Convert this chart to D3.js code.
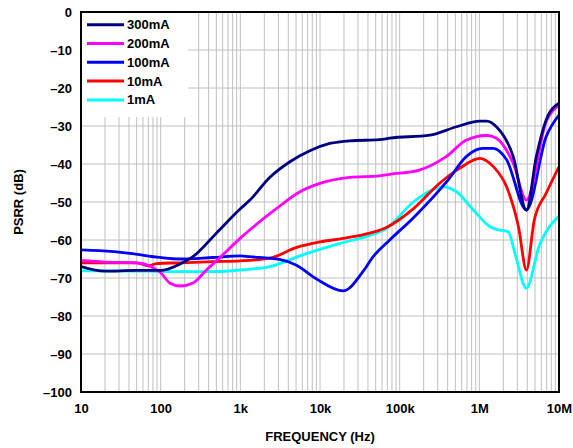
<!DOCTYPE html>
<html><head><meta charset="utf-8">
<script src="https://cdn.jsdelivr.net/npm/d3@7"></script>
<style>body{margin:0;background:#fff}svg{display:block}</style>
</head><body>
<script>
const xTicks = [10, 100, 1e3, 1e4, 1e5, 1e6, 1e7];
const xTickLabels = ["10", "100", "1k", "10k", "100k", "1M", "10M"];
const yTicks = [0, -10, -20, -30, -40, -50, -60, -70, -80, -90, -100];
const seriesNames = ["300mA", "200mA", "100mA", "10mA", "1mA"];
const seriesColors = ["#000080", "#ff00ff", "#0000ff", "#ff0000", "#00ffff"];

const freq300 = [10, 20, 50, 100, 175, 254, 500, 1000, 1320, 2350, 4190, 7470, 13300, 23700, 56000, 75300, 240e3, 517e3, 1.01e6, 1.24e6, 1.64e6, 2.66e6, 3.9e6, 5.2e6, 6.9e6, 1e7];
const psrr300 = [-67, -68.2, -68, -68, -66.3, -64.4, -58.2, -51.8, -49.5, -43.5, -39.4, -36.5, -34.6, -33.9, -33.6, -33.2, -32.4, -30.2, -28.7, -28.7, -30.2, -38, -52.1, -38, -28.4, -24];

const freq200 = [10, 20, 50, 100, 130, 175, 255, 375, 550, 1000, 2700, 5600, 10000, 23700, 56000, 75000, 176e3, 387e3, 690e3, 1.24e6, 1.64e6, 2.66e6, 3.9e6, 6.9e6, 1e7];
const psrr200 = [-65.4, -65.8, -66, -68.6, -71.3, -72.1, -71.3, -67.9, -64.7, -59.5, -52.1, -47.3, -45.1, -43.5, -43.1, -42.7, -41.6, -38, -33.7, -32.5, -33.2, -39.8, -49.5, -28.9, -24.5];

const freq100 = [10, 17, 41, 98, 175, 450, 1000, 1300, 3100, 5000, 9100, 19500, 34900, 46500, 75000, 148e3, 406e3, 690e3, 1.1e6, 1.5e6, 2.2e6, 3.9e6, 6.9e6, 1e7];
const psrr100 = [-62.6, -62.8, -63.5, -64.6, -65, -64.6, -64.2, -64.4, -65.1, -66.6, -70.3, -73.4, -68.2, -64.4, -60, -54.2, -44.2, -38, -35.9, -35.9, -38.9, -52.1, -32.8, -27.1];

const freq10 = [10, 31, 50, 70, 89, 175, 450, 1000, 2350, 5000, 10000, 19500, 42000, 68000, 148e3, 320e3, 570e3, 1.01e6, 1.5e6, 2.2e6, 3.1e6, 3.9e6, 4.9e6, 6.9e6, 1e7];
const psrr10 = [-66, -66, -66, -66.8, -66.2, -66, -65.7, -65.5, -64.8, -62, -60.5, -59.6, -58.2, -56.7, -51.8, -45, -41.1, -38.5, -40.7, -46, -56.5, -67.9, -54.7, -47.7, -40.7];

const freq1 = [10, 25, 67, 175, 450, 1000, 2350, 6100, 17800, 42000, 68000, 148e3, 260e3, 350e3, 517e3, 840e3, 1.36e6, 1.8e6, 2.3e6, 2.8e6, 3.9e6, 5.6e6, 1e7];
const psrr1 = [-68.1, -68.1, -68.2, -68.3, -68.3, -67.9, -67, -63.9, -60.9, -58.8, -57, -50, -46.8, -46, -47.3, -52.1, -56.5, -57.4, -57.8, -63.5, -72.7, -61.8, -53.7];

const W = 573, H = 448;
const L = 81, R = 559, T = 12, B = 392;
const svg = d3.select("body").append("svg").attr("width", W).attr("height", H);
const x = d3.scaleLog().domain([10, 1e7]).range([L, R]);
const y = d3.scaleLinear().domain([-100, 0]).range([B, T]);
const font = "'Liberation Sans', Arial, sans-serif";

// grid
const grid = svg.append("g").attr("stroke", "#c0c0c0").attr("stroke-width", 1);
const minor = [];
for (let d = 10; d < 1e7; d *= 10) for (let k = 2; k <= 9; k++) minor.push(d * k);
minor.concat(xTicks.slice(1, -1)).forEach(f => {
  grid.append("line").attr("x1", x(f)).attr("x2", x(f)).attr("y1", T).attr("y2", B);
});
yTicks.slice(1, -1).forEach(v => {
  grid.append("line").attr("x1", L).attr("x2", R).attr("y1", y(v)).attr("y2", y(v));
});

// legend background
svg.append("rect").attr("x", L).attr("y", T).attr("width", 107).attr("height", 105).attr("fill", "#fff");

// curves
const datasets = [[freq300, psrr300], [freq200, psrr200], [freq100, psrr100], [freq10, psrr10], [freq1, psrr1]];
const line = d3.line().x(d => x(d[0])).y(d => y(d[1])).curve(d3.curveMonotoneX);
svg.append("clipPath").attr("id", "c").append("rect").attr("x", L).attr("y", T).attr("width", R - L).attr("height", B - T);
[4, 3, 2, 1, 0].forEach(i => {
  const [fs, vs] = datasets[i];
  svg.append("path").datum(fs.map((f, j) => [f, vs[j]]))
    .attr("d", line).attr("fill", "none").attr("stroke", seriesColors[i])
    .attr("stroke-width", 2.8).attr("stroke-linejoin", "round").attr("clip-path", "url(#c)");
});

// frame
svg.append("rect").attr("x", L).attr("y", T).attr("width", R - L).attr("height", B - T)
  .attr("fill", "none").attr("stroke", "#000").attr("stroke-width", 2);

// axes labels
const xAxis = d3.axisBottom(x).tickValues(xTicks).tickFormat((d, i) => xTickLabels[i]).tickSize(0).tickPadding(12);
const gx = svg.append("g").attr("transform", `translate(0,${B})`).call(xAxis);
gx.select(".domain").remove();
gx.selectAll("text").attr("font-family", font).attr("font-weight", "bold").attr("font-size", 13).attr("fill", "#000");

const yAxis = d3.axisLeft(y).tickValues(yTicks).tickFormat(d => d === 0 ? "0" : "\u2013" + Math.abs(d)).tickSize(0).tickPadding(9);
const gy = svg.append("g").attr("transform", `translate(${L},0)`).call(yAxis);
gy.select(".domain").remove();
gy.selectAll("text").attr("font-family", font).attr("font-weight", "bold").attr("font-size", 13).attr("fill", "#000");

svg.append("text").attr("x", (L + R) / 2).attr("y", 441).attr("text-anchor", "middle")
  .attr("font-family", font).attr("font-weight", "bold").attr("font-size", 13).text("FREQUENCY (Hz)");
svg.append("text").attr("transform", `translate(23,${(T + B) / 2}) rotate(-90)`).attr("text-anchor", "middle")
  .attr("font-family", font).attr("font-weight", "bold").attr("font-size", 13).text("PSRR (dB)");

// legend
seriesNames.forEach((n, i) => {
  const ly = 24.7 + i * 18.8;
  svg.append("line").attr("x1", 87).attr("x2", 124).attr("y1", ly).attr("y2", ly)
    .attr("stroke", seriesColors[i]).attr("stroke-width", 3);
  svg.append("text").attr("x", 127).attr("y", ly + 4.5).attr("font-family", font)
    .attr("font-weight", "bold").attr("font-size", 13).text(n);
});
</script>
</body></html>
